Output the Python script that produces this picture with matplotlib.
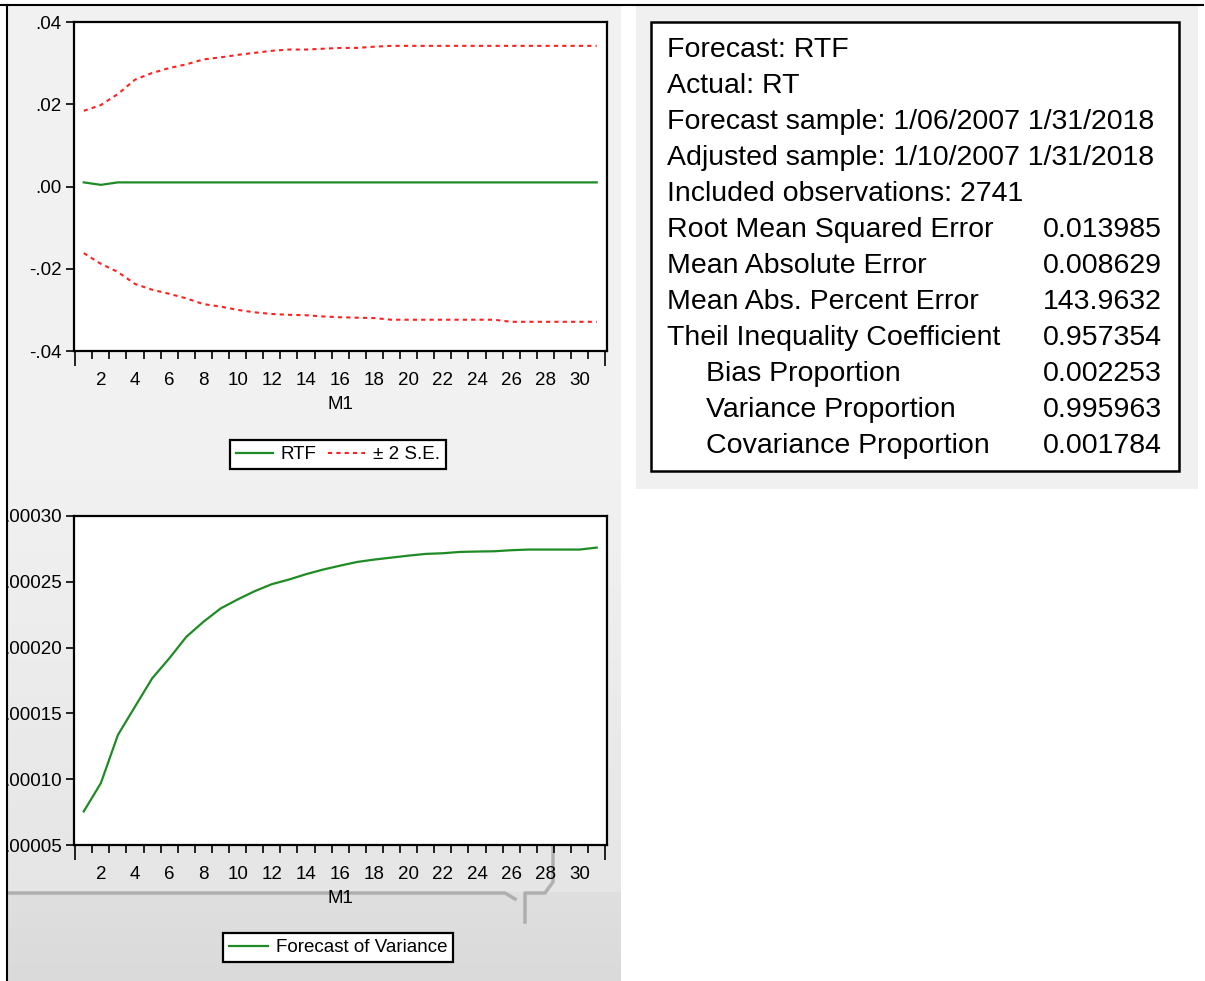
import numpy as np
import matplotlib
matplotlib.use("Agg")
import matplotlib.pyplot as plt
from matplotlib.patches import Rectangle
from matplotlib.lines import Line2D

plt.rcParams['font.family'] = ['Liberation Sans', 'DejaVu Sans']

# forecast horizon (observations 1..31)
obs = np.arange(1, 32)

rtf = [0.0010, 0.0004] + [0.0010] * 29
upper = [0.0184, 0.0198, 0.0225, 0.0260, 0.0276, 0.0288, 0.0297, 0.0309, 0.0314, 0.0320,
         0.0325, 0.0330, 0.0333, 0.0333, 0.0335, 0.0337, 0.0337, 0.0340, 0.0342, 0.0342,
         0.0342, 0.0342, 0.0342, 0.0342, 0.0342, 0.0342, 0.0342, 0.0342, 0.0342, 0.0342, 0.0342]
lower = [-0.0162, -0.0188, -0.0208, -0.0237, -0.0251, -0.0261, -0.0272, -0.0286, -0.0292, -0.0300,
         -0.0306, -0.0310, -0.0312, -0.0313, -0.0316, -0.0318, -0.0319, -0.0320, -0.0324, -0.0324,
         -0.0324, -0.0324, -0.0324, -0.0324, -0.0324, -0.0329, -0.0329, -0.0329, -0.0329, -0.0329, -0.0329]

variance = [0.0000755, 0.0000970, 0.0001337, 0.0001552, 0.0001766, 0.0001918, 0.0002082, 0.0002196,
            0.0002297, 0.0002366, 0.0002429, 0.0002482, 0.0002517, 0.0002558, 0.0002593, 0.0002623,
            0.0002651, 0.0002669, 0.0002684, 0.0002699, 0.0002712, 0.0002717, 0.0002727, 0.0002730,
            0.0002732, 0.0002740, 0.0002745, 0.0002745, 0.0002745, 0.0002745, 0.0002760]

stat_names = ["Root Mean Squared Error", "Mean Absolute Error", "Mean Abs. Percent Error",
              "Theil Inequality Coefficient", "Bias Proportion", "Variance Proportion",
              "Covariance Proportion"]
stat_values = ["0.013985", "0.008629", "143.9632", "0.957354", "0.002253", "0.995963", "0.001784"]
header_lines = ["Forecast: RTF", "Actual: RT", "Forecast sample: 1/06/2007 1/31/2018",
                "Adjusted sample: 1/10/2007 1/31/2018", "Included observations: 2741"]

W, H = 1205, 981
green = '#1f8b24'
red = '#ff2020'
fs = 13.5

fig = plt.figure(figsize=(W / 100, H / 100), dpi=100)
fig.patch.set_facecolor('white')

def fx(x):
    return x / W

def fy(y):
    return 1 - y / H

# grey panels
fig.patches.append(Rectangle((fx(8), 0), fx(621 - 8), fy(6), transform=fig.transFigure,
                             facecolor='#f1f1f1', edgecolor='none', zorder=-10))
grad = fig.add_axes([fx(8), 0, fx(621 - 8), (981 - 480) / H], zorder=-5)
g = np.concatenate([np.linspace(0.945, 0.90, 412), np.linspace(0.875, 0.855, 89)]).reshape(-1, 1)
grad.imshow(np.dstack([g, g, g]), aspect='auto', extent=[0, 1, 0, 1])
grad.axis('off')
fig.patches.append(Rectangle((fx(636), fy(489)), fx(1198 - 636), (489 - 6) / H, transform=fig.transFigure,
                             facecolor='#f0f0f0', edgecolor='none', zorder=-10))

# callout shadow on lower panel
fig.lines.append(Line2D([fx(8), fx(505), fx(515)], [fy(893), fy(893), fy(899)], transform=fig.transFigure,
                        color='#9a9a9a', lw=2.5, alpha=0.7, zorder=-1))
fig.lines.append(Line2D([fx(525), fx(525), fx(545), fx(553), fx(553)],
                        [fy(922), fy(893), fy(893), fy(882), fy(845)], transform=fig.transFigure,
                        color='#9a9a9a', lw=2.5, alpha=0.7, zorder=-1))


def style_axes(ax):
    ax.set_facecolor('white')
    for s in ax.spines.values():
        s.set_linewidth(1.6)
        s.set_color('black')
    ax.set_xlim(0.43, 31.6)
    ax.set_xticks(range(2, 31, 2))
    ax.set_xticks(np.arange(1.5, 31, 1), minor=True)
    ax.tick_params(axis='x', which='major', length=0, pad=15, labelsize=fs)
    ax.tick_params(axis='x', which='minor', length=5.5, width=1.2, direction='out')
    ax.tick_params(axis='y', which='major', length=6, width=1.2, direction='out', pad=3, labelsize=fs)
    sec = ax.secondary_xaxis('bottom')
    sec.set_xticks([0.5, 31.5])
    sec.tick_params(length=11, width=1.2, labelbottom=False)
    sec.spines['bottom'].set_visible(False)
    ax.set_xlabel('M1', fontsize=fs, labelpad=5)


# top: forecast with +/- 2 S.E.
ax1 = fig.add_axes([fx(74), fy(351), fx(607 - 74), (351 - 22) / H])
ax1.plot(obs, rtf, color=green, lw=1.6, label='RTF')
ax1.plot(obs, upper, color=red, lw=1.5, ls=(0, (2, 2)), label='± 2 S.E.')
ax1.plot(obs, lower, color=red, lw=1.5, ls=(0, (2, 2)))
ax1.set_ylim(-0.04, 0.04)
ax1.set_yticks([-0.04, -0.02, 0.0, 0.02, 0.04])
ax1.yaxis.set_major_formatter(lambda v, p: f"{v:.2f}".replace("0.", "."))
style_axes(ax1)
h, l = ax1.get_legend_handles_labels()
leg = ax1.legend(h, l, loc='center', bbox_to_anchor=(0.495, -0.315), ncol=2, fontsize=fs,
                 frameon=True, fancybox=False, framealpha=1, edgecolor='black',
                 handlelength=2.0, handletextpad=0.4, columnspacing=0.6, borderpad=0.3)
leg.get_frame().set_linewidth(1.6)

# bottom: forecast of variance
ax2 = fig.add_axes([fx(74), fy(845), fx(607 - 74), (845 - 516) / H])
ax2.plot(obs, variance, color=green, lw=1.6, label='Forecast of Variance')
ax2.set_ylim(0.00005, 0.00030)
ax2.set_yticks([0.00005, 0.00010, 0.00015, 0.00020, 0.00025, 0.00030])
ax2.yaxis.set_major_formatter(lambda v, p: f"{v:.5f}".replace("0.", "."))
style_axes(ax2)
leg2 = ax2.legend(loc='center', bbox_to_anchor=(0.495, -0.312), fontsize=fs,
                  frameon=True, fancybox=False, framealpha=1, edgecolor='black',
                  handlelength=2.1, handletextpad=0.4, borderpad=0.3)
leg2.get_frame().set_linewidth(1.6)

# statistics box
fig.patches.append(Rectangle((fx(651), fy(471)), fx(1179 - 651), (471 - 22) / H, transform=fig.transFigure,
                             facecolor='white', edgecolor='black', lw=1.8, zorder=1))
tfs = 20.5
y0 = 57
for i, line in enumerate(header_lines):
    fig.text(fx(667), fy(y0 + 36 * i), line, fontsize=tfs, ha='left', va='baseline')
for j, (name, val) in enumerate(zip(stat_names, stat_values)):
    yb = y0 + 36 * (len(header_lines) + j)
    xl = 706 if name.endswith("Proportion") else 667
    fig.text(fx(xl), fy(yb), name, fontsize=tfs, ha='left', va='baseline')
    fig.text(fx(1162), fy(yb), val, fontsize=tfs, ha='right', va='baseline')

# left mask and outer lines of the screenshot
fig.patches.append(Rectangle((0, 0), fx(7), 1, transform=fig.transFigure,
                             facecolor='white', edgecolor='none', zorder=50))
fig.lines.append(Line2D([fx(7), fx(7)], [0, fy(5)], transform=fig.transFigure, color='black', lw=1.5, zorder=51))
fig.lines.append(Line2D([0, fx(1203)], [fy(5), fy(5)], transform=fig.transFigure, color='black', lw=1.5, zorder=51))

fig.savefig('out.png', dpi=100)
